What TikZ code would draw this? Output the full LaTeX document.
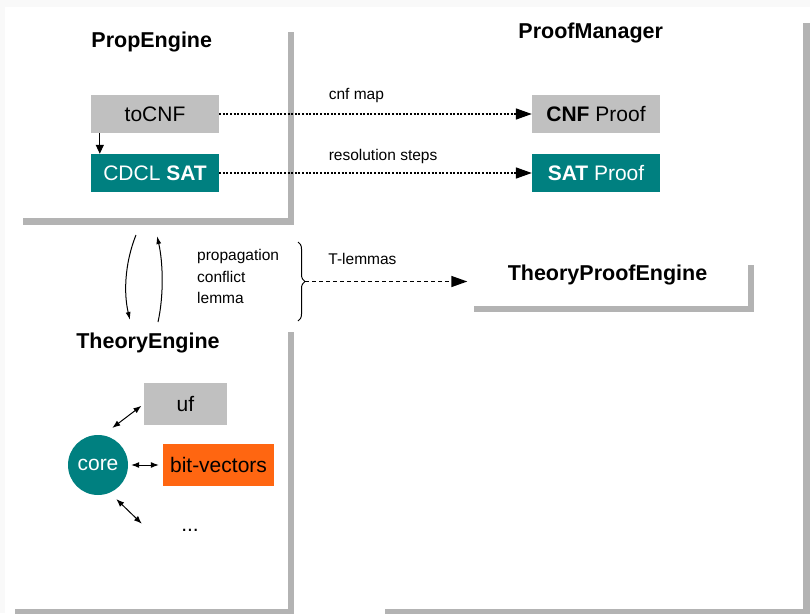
\documentclass[tikz,border=0pt]{standalone}
\usepackage{fontspec}
\setmainfont{Liberation Sans}
\usetikzlibrary{arrows.meta,positioning,shadows,decorations.pathreplacing}
\definecolor{shadowgrey}{RGB}{179,179,179}
\definecolor{pagegrey}{RGB}{249,249,249}
\definecolor{boxgrey}{RGB}{192,192,192}
\definecolor{satteal}{RGB}{0,128,128}
\definecolor{bvorange}{RGB}{255,102,17}
\newcommand{\titlefont}{\fontsize{21.5}{25}\selectfont}
\newcommand{\boxfont}{\fontsize{21}{25}\selectfont}
\newcommand{\notefont}{\fontsize{15.5}{21.5}\selectfont}
\tikzset{%
  panel/.style     = {fill=white, inner sep=0pt,%
                      drop shadow={shadow xshift=6.5pt, shadow yshift=-6.5pt,%
                                   fill=shadowgrey, opacity=1}},%
  title/.style     = {font=\titlefont\bfseries, inner sep=0pt},%
  module/.style    = {fill=boxgrey, inner sep=0pt, font=\boxfont,%
                      minimum width=128pt, minimum height=38pt},%
  satmodule/.style = {module, fill=satteal, text=white},%
  theory/.style    = {module, minimum width=83pt, minimum height=42pt},%
  note/.style      = {font=\notefont, inner sep=0pt},%
  proofstep/.style = {line width=1.6pt, dash pattern=on 2pt off 1.6pt,%
                      -{Triangle[length=16pt,width=11pt]}},%
  link/.style      = {line width=1pt,%
                      {Latex[length=8pt,width=6pt]}-{Latex[length=8pt,width=6pt]}}%
}
\begin{document}
\begin{tikzpicture}[x=1pt, y=-1pt]%
	\useasboundingbox (0,0) rectangle (810,613);
	\fill[pagegrey] (0,0) rectangle (810,613);
	\fill[white] (5,7) rectangle (810,613);
	% panels
	\node (propbox) at (151.75,121.75) [panel, minimum width=271.5pt, minimum height=192.5pt] {};
	\node (pmbox) at (590.75,312.75) [panel, minimum width=424.5pt, minimum height=592.5pt] {};
	\node (tebox) at (148,467.25) [panel, minimum width=279pt, minimum height=283.5pt] {};
	\node (tpebox) at (607.5,282) [panel, minimum width=280pt, minimum height=47pt] {};
	\node (proptitle) [title, below=6.5pt of propbox.north] {PropEngine};
	\node (pmtitle) [title, below=6.5pt of pmbox.north] {ProofManager};
	\node (tetitle) [title, below=7.5pt of tebox.north] {TheoryEngine};
	\node (tpetitle) [title, below=6pt of tpebox.north] {TheoryProofEngine};
	% sat side
	\node (tocnf) at (155,114) [module] {toCNF};
	\node (cdcl) at (155,173) [satmodule] {CDCL \textbf{SAT}};
	\node (cnfproof) at (596,114) [module] {\textbf{CNF} Proof};
	\node (satproof) at (596,173) [satmodule] {\textbf{SAT} Proof};
	\draw[line width=1.2pt, -{Triangle[length=9pt,width=8pt]}]
		([xshift=9pt]tocnf.south west) -- ([xshift=9pt]cdcl.north west);
	\draw[proofstep] (tocnf) -- (cnfproof)
		node[note, pos=0.348, anchor=south west, yshift=10pt] {cnf map};
	\draw[proofstep] (cdcl) -- (satproof)
		node[note, pos=0.348, anchor=south west, yshift=8.5pt] {resolution steps};
	% between the engines
	\coordinate (down-from) at (136,235);
	\coordinate (down-to) at (130,320);
	\coordinate (up-from) at (158,322);
	\coordinate (up-to) at (157,236);
	\draw[line width=1pt, -{Latex[length=8pt,width=5pt]}]
		(down-from) .. controls (124,265) and (124,295) .. (down-to);
	\draw[line width=1pt, -{Latex[length=8pt,width=5pt]}]
		(up-from) .. controls (164,295) and (163,262) .. (up-to);
	\node (events) at (197,276.5) [note, anchor=west, align=left] {propagation\\conflict\\lemma};
	\draw[line width=1pt, decorate, decoration={brace, amplitude=7pt}] (298,242) -- (298,321);
	\coordinate (tip) at (305,281.5);
	\draw[line width=1.4pt, dash pattern=on 4pt off 3pt, -{Triangle[length=16pt,width=11pt]}]
		(tip) -- (tip -| tpebox.west)
		node[note, pos=0.14, anchor=south west, yshift=16.5pt] {T-lemmas};
	% theories
	\node (core) at (98,465) [circle, fill=satteal, text=white, font=\boxfont,
		minimum size=60pt, inner sep=0pt] {core};
	\node (uf) at (185.5,404) [theory] {uf};
	\node (bits) at (218.5,465) [theory, fill=bvorange, minimum width=111pt] {bit-vectors};
	\node (more) at (190,530) [theory, fill=none] {...};
	\draw[link, shorten <=12pt, shorten >=3pt] (core.81) -- (uf.west);
	\draw[link, shorten <=3pt, shorten >=4pt] (core) -- (bits);
	\draw[link, shorten <=9pt, shorten >=9pt] (core.-67.5) -- (more.west);
\end{tikzpicture}
\end{document}
